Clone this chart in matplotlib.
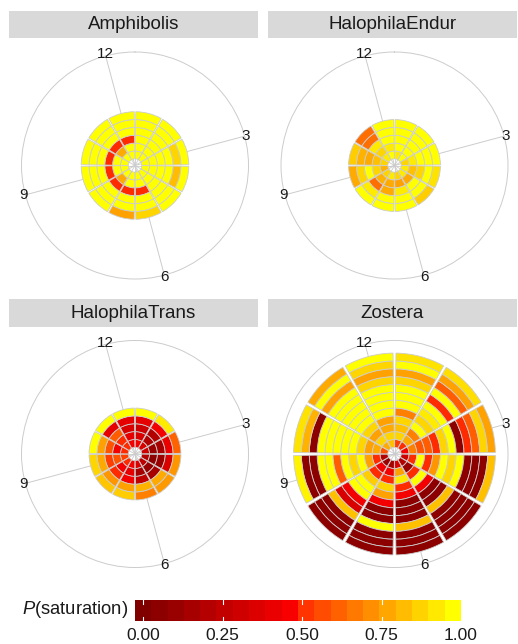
import numpy as np
import matplotlib.pyplot as plt
from matplotlib.colors import LinearSegmentedColormap, Normalize
from matplotlib.patches import Rectangle

plt.rcParams['font.family'] = ['Liberation Sans', 'DejaVu Sans']
plt.rcParams['mathtext.fontset'] = 'custom'
plt.rcParams['mathtext.it'] = 'Liberation Sans:italic'
plt.rcParams['mathtext.rm'] = 'Liberation Sans'

# P(saturation) per ring (rows, innermost first) and month (columns, Jan..Dec)
species = ['Amphibolis', 'HalophilaEndur', 'HalophilaTrans', 'Zostera']
months = np.arange(1, 13)
month_breaks = [3, 6, 9, 12]

amphibolis = [
    [1.00, 1.00, 1.00, 1.00, 1.00, 1.00, 1.00, 1.00, 1.00, 1.00, 1.00, 1.00],
    [1.00, 1.00, 1.00, 1.00, 1.00, 1.00, 1.00, 0.80, 1.00, 1.00, 0.80, 1.00],
    [1.00, 1.00, 1.00, 1.00, 1.00, 0.50, 0.50, 0.50, 0.50, 0.50, 0.50, 0.50],
    [1.00, 1.00, 1.00, 1.00, 1.00, 1.00, 1.00, 1.00, 1.00, 1.00, 1.00, 1.00],
    [1.00, 1.00, 0.90, 0.84, 1.00, 1.00, 1.00, 1.00, 1.00, 1.00, 1.00, 1.00],
    [1.00, 1.00, 1.00, 1.00, 1.00, 0.90, 0.78, 1.00, 1.00, 1.00, 1.00, 1.00],
]

halophila_endur = [
    [0.95, 1.00, 0.90, 0.95, 0.95, 0.90, 0.95, 0.90, 0.82, 0.90, 0.95, 1.00],
    [1.00, 1.00, 0.95, 0.85, 0.80, 0.78, 0.80, 0.82, 0.90, 0.85, 0.90, 0.95],
    [1.00, 1.00, 1.00, 0.90, 1.00, 0.95, 0.80, 0.66, 1.00, 0.80, 0.95, 1.00],
    [1.00, 1.00, 1.00, 1.00, 1.00, 1.00, 1.00, 0.95, 0.90, 0.82, 0.66, 1.00],
    [1.00, 1.00, 1.00, 0.93, 0.88, 1.00, 1.00, 1.00, 0.80, 0.88, 0.66, 1.00],
]

halophila_trans = [
    [0.45, 0.35, 0.30, 0.20, 0.25, 0.35, 0.45, 0.50, 0.55, 0.50, 0.50, 0.45],
    [0.35, 0.20, 0.10, 0.05, 0.10, 0.15, 0.40, 0.45, 0.60, 0.45, 0.50, 0.40],
    [0.30, 0.20, 0.15, 0.10, 0.15, 0.25, 0.45, 0.50, 0.55, 0.60, 0.62, 0.35],
    [0.40, 0.45, 0.42, 0.35, 0.80, 0.82, 0.78, 0.75, 0.80, 0.78, 0.40, 0.40],
    [1.00, 0.95, 0.63, 0.75, 0.76, 0.70, 0.88, 0.86, 0.90, 1.00, 1.00, 1.00],
]

zostera = [
    [0.55, 0.50, 0.45, 0.30, 0.20, 0.35, 0.15, 0.10, 0.20, 0.60, 0.80, 0.85],
    [0.90, 0.80, 0.70, 0.50, 0.10, 0.78, 0.45, 0.45, 0.50, 0.80, 0.90, 0.90],
    [0.85, 0.70, 0.60, 1.00, 0.50, 0.95, 0.50, 0.50, 0.78, 0.78, 0.78, 0.80],
    [0.90, 1.00, 0.62, 0.50, 1.00, 0.50, 0.90, 0.88, 1.00, 0.90, 0.90, 0.78],
    [0.70, 0.90, 0.50, 0.75, 0.45, 0.45, 0.78, 1.00, 0.90, 1.00, 1.00, 1.00],
    [1.00, 0.95, 0.90, 1.00, 0.05, 0.05, 0.45, 1.00, 1.00, 1.00, 1.00, 1.00],
    [1.00, 1.00, 1.00, 0.90, 0.05, 0.05, 0.05, 0.45, 0.62, 1.00, 1.00, 1.00],
    [1.00, 0.50, 0.05, 1.00, 0.85, 0.05, 0.05, 0.35, 1.00, 1.00, 1.00, 1.00],
    [0.90, 1.00, 0.50, 0.05, 0.05, 0.85, 1.00, 0.85, 1.00, 1.00, 1.00, 0.90],
    [0.78, 0.62, 0.62, 0.05, 0.05, 0.05, 0.05, 0.05, 0.05, 0.05, 0.78, 0.78],
    [1.00, 0.78, 0.90, 0.05, 0.05, 0.05, 0.05, 0.05, 0.05, 0.82, 1.00, 0.90],
    [0.93, 0.92, 0.78, 0.85, 0.05, 0.05, 0.05, 0.05, 0.97, 0.93, 0.80, 1.00],
]

panel_data = [amphibolis, halophila_endur, halophila_trans, zostera]

legend_breaks = [0.00, 0.25, 0.50, 0.75, 1.00]

# dark red -> red below 0.5, orange-red -> yellow above
cmap = LinearSegmentedColormap.from_list('sat', [
    (0.0, '#800000'), (0.5, '#FF0000'), (0.5, '#FF2A00'), (1.0, '#FFFF00')])
norm = Normalize(0, 1)

W, H = 518, 644
fig = plt.figure(figsize=(W / 100, H / 100), dpi=100)

HOLE = 0.85
R_OUT = 14.45
R_LAB = 14.65
GAP = np.deg2rad(1.7)
grid_col = '#CCCCCC'
text_col = '#1A1A1A'
step = 2 * np.pi / 12

centers = [(135, 165.5), (394.5, 165.5), (135, 454), (394.5, 454)]
strips = [(9, 11, 249, 27), (268, 11, 249, 27), (9, 299, 249, 28), (268, 299, 249, 28)]
rad_px = 113.5

for name, data, (cx, cy), (sx, sy, sw, sh) in zip(species, panel_data, centers, strips):
    # facet strip
    fig.add_artist(Rectangle((sx / W, 1 - (sy + sh) / H), sw / W, sh / H,
                             transform=fig.transFigure, facecolor='#D9D9D9',
                             edgecolor='none'))
    fig.text((sx + sw / 2) / W, 1 - (sy + sh / 2) / H, name, ha='center',
             va='center', fontsize=13.5, color=text_col)

    ax = fig.add_axes([(cx - rad_px) / W, 1 - (cy + rad_px) / H,
                       2 * rad_px / W, 2 * rad_px / H], projection='polar')
    ax.set_theta_zero_location('N')
    ax.set_theta_direction(-1)
    ax.set_ylim(0, R_OUT)
    ax.set_xticks([])
    ax.set_yticks([])
    ax.grid(False)
    ax.spines['polar'].set_color(grid_col)
    ax.spines['polar'].set_linewidth(0.7)

    theta = (months - 0.5) * step
    vals = np.array(data)

    # spokes towards the labelled months
    for m in month_breaks:
        t = (m - 0.5) * step
        ax.plot([t, t], [0, R_OUT], color=grid_col, lw=0.7, zorder=1)
    for k in range(12):
        ax.plot([k * step, k * step], [0, HOLE], color=grid_col, lw=0.6, zorder=1)

    for i, row in enumerate(vals):
        ax.bar(theta, 1, width=step - GAP, bottom=HOLE + i, align='center',
               color=cmap(norm(row)), edgecolor=grid_col, linewidth=0.6, zorder=2)

    for m in month_breaks:
        ax.text((m - 0.5) * step, R_LAB, str(m), ha='center', va='center',
                fontsize=11, color=text_col, clip_on=False)

# colour bar legend
bar_lo, bar_hi = -0.026, 1.0
cax = fig.add_axes([135 / W, 1 - 621 / H, 326 / W, 21 / H])
bins = np.linspace(0, 1, 20)
cax.imshow(bins[np.newaxis, :], cmap=cmap, norm=norm, aspect='auto',
           extent=[bar_lo, bar_hi, 0, 1], interpolation='nearest')
cax.set_xlim(bar_lo, bar_hi)
cax.set_ylim(0, 1)
cax.axis('off')
tr = cax.get_xaxis_transform()
for v in legend_breaks:
    if v < bar_hi:
        cax.plot([v, v], [0, 0.2], color='white', lw=0.8)
        cax.plot([v, v], [0.8, 1], color='white', lw=0.8)
    cax.text(v, -0.7, f'{v:.2f}', transform=tr, ha='center', va='center',
             fontsize=12.5, color=text_col, clip_on=False)

fig.text(128 / W, 1 - 610 / H, '$\\mathit{P}$(saturation)', ha='right',
         va='center', fontsize=13.2, color=text_col)

fig.savefig('out.png', dpi=100)
